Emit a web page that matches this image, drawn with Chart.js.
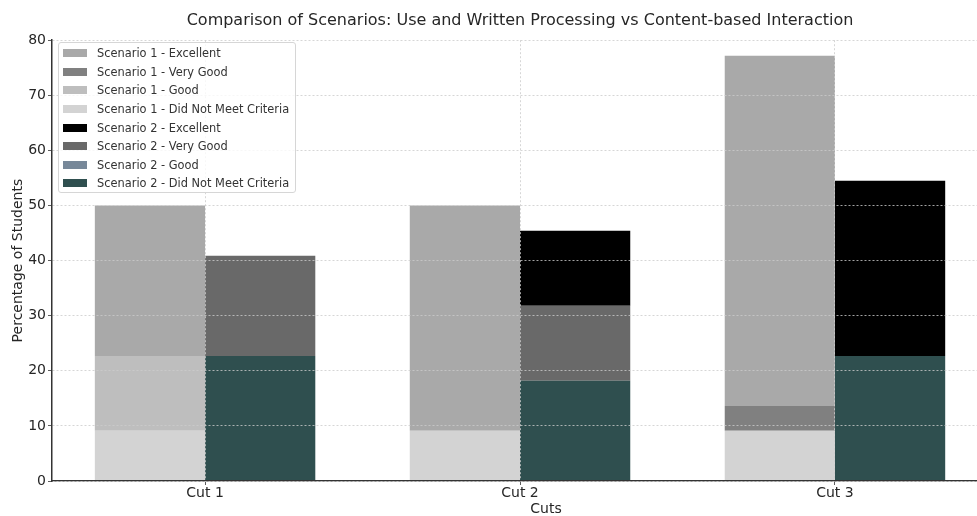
<!DOCTYPE html>
<html>
<head>
<meta charset="utf-8">
<script src="https://cdn.jsdelivr.net/npm/chart.js@4.4.1/dist/chart.umd.min.js"></script>
<style>
    body { margin: 0; overflow: hidden; background: #fff; font-family: "DejaVu Sans", sans-serif; }
    #wrap { position: relative; width: 1040px; height: 518px; }
    #legend {
        position: absolute; left: 58px; top: 42px; width: 238px; height: 151px;
        border: 1px solid #d6d6d6; border-radius: 3px; background: rgba(255,255,255,0.8);
        box-sizing: border-box; padding-top: 1px;
    }
    .item { height: 18.6px; display: flex; align-items: center; font-size: 11.4px; color: #333; white-space: nowrap; }
    .swatch { flex: 0 0 24px; height: 8px; margin-left: 4px; margin-right: 10px; }
</style>
</head>
<body>
<div id="wrap">
    <canvas id="chart" width="1040" height="518"></canvas>
    <div id="legend"></div>
</div>
<script>
    // Data (percent of students)
    const cuts = ['Cut 1', 'Cut 2', 'Cut 3'];
    const yTicks = [0, 10, 20, 30, 40, 50, 60, 70, 80];

    const s1Excellent = [27.3, 40.9, 63.6];
    const s1VeryGood = [0, 0, 4.5];
    const s1Good = [13.6, 0, 0];
    const s1NotMet = [9.1, 9.1, 9.1];

    const s2Excellent = [0, 13.6, 31.8];
    const s2VeryGood = [18.2, 13.6, 0];
    const s2Good = [0, 0, 0];
    const s2NotMet = [22.7, 18.2, 22.7];

    function series(label, values, color, stack) {
        return {
            label: label,
            data: values.map((v, i) => ({ x: i, y: v })),
            backgroundColor: color,
            borderWidth: 0,
            stack: stack
        };
    }

    // stacking order: bottom first
    const datasets = [
        series('Scenario 1 - Did Not Meet Criteria', s1NotMet, '#d3d3d3', 's1'),
        series('Scenario 1 - Good', s1Good, '#bebebe', 's1'),
        series('Scenario 1 - Very Good', s1VeryGood, '#808080', 's1'),
        series('Scenario 1 - Excellent', s1Excellent, '#a9a9a9', 's1'),
        series('Scenario 2 - Did Not Meet Criteria', s2NotMet, '#2f4f4f', 's2'),
        series('Scenario 2 - Good', s2Good, '#778899', 's2'),
        series('Scenario 2 - Very Good', s2VeryGood, '#696969', 's2'),
        series('Scenario 2 - Excellent', s2Excellent, '#000000', 's2')
    ];

    // Legend lists Excellent first within each scenario
    const legendOrder = [3, 2, 1, 0, 7, 6, 5, 4];
    const legend = document.getElementById('legend');
    legendOrder.forEach(i => {
        const ds = datasets[i];
        const row = document.createElement('div');
        row.className = 'item';
        row.innerHTML = '<span class="swatch" style="background:' + ds.backgroundColor + '"></span>' + ds.label;
        legend.appendChild(row);
    });

    const font = { family: '"DejaVu Sans", sans-serif' };

    new Chart(document.getElementById('chart'), {
        type: 'bar',
        data: { datasets: datasets },
        options: {
            responsive: false,
            animation: false,
            layout: { padding: 0 },
            datasets: { bar: { categoryPercentage: 0.7, barPercentage: 1.0 } },
            plugins: {
                legend: { display: false },
                tooltip: { enabled: false },
                title: {
                    display: true,
                    text: 'Comparison of Scenarios: Use and Written Processing vs Content-based Interaction',
                    color: '#262626',
                    font: { ...font, size: 16, weight: 'normal' },
                    padding: { top: 11, bottom: 10 }
                }
            },
            scales: {
                x: {
                    type: 'linear',
                    min: -0.486,
                    max: 2.651,
                    offset: false,
                    afterBuildTicks: scale => { scale.ticks = cuts.map((c, i) => ({ value: i })); },
                    afterFit: scale => { scale.height = 37; },
                    ticks: {
                        callback: (v) => cuts[v],
                        color: '#262626',
                        font: { ...font, size: 14 },
                        padding: 0,
                        maxRotation: 0,
                        autoSkip: false
                    },
                    grid: { color: '#cccccc', lineWidth: 0.8, offset: false, z: 1, tickColor: '#333', tickLength: 4 },
                    border: { color: '#333', width: 1.5, dash: [2, 2], z: 1 },
                    title: {
                        display: true,
                        text: 'Cuts',
                        color: '#262626',
                        font: { ...font, size: 14 },
                        padding: { top: 0, bottom: 0 }
                    }
                },
                y: {
                    stacked: true,
                    min: 0,
                    max: 80,
                    afterBuildTicks: scale => { scale.ticks = yTicks.map(v => ({ value: v })); },
                    afterFit: scale => { scale.width = 52; },
                    ticks: {
                        color: '#262626',
                        font: { ...font, size: 14 },
                        padding: 2
                    },
                    grid: { color: '#cccccc', lineWidth: 0.8, z: 1, tickColor: '#333', tickLength: 4 },
                    border: { color: '#333', width: 1.5, dash: [2, 2], z: 1 },
                    title: {
                        display: true,
                        text: 'Percentage of Students',
                        color: '#262626',
                        font: { ...font, size: 14 },
                        padding: { top: 10, bottom: 0 }
                    }
                }
            }
        }
    });
</script>
</body>
</html>
